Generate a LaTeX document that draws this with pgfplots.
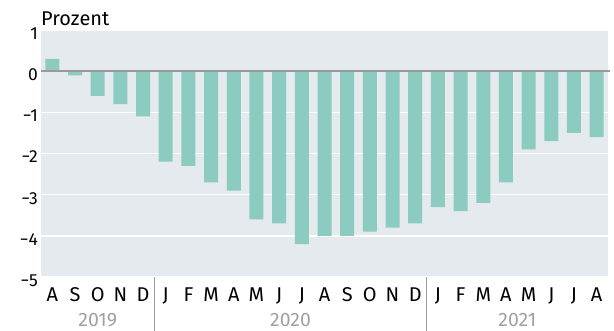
\documentclass[border=0pt]{standalone}
\usepackage{fontspec}
\setmainfont{Fira Sans}
\usepackage{pgfplots}
\pgfplotsset{compat=1.18}
\definecolor{bg}{HTML}{E5EAEE}
\definecolor{barc}{HTML}{8CCBC0}
\definecolor{zeroc}{HTML}{9A9A9A}
\definecolor{yrc}{HTML}{A0A0A0}
\begin{document}
\begin{tikzpicture}
\path[use as bounding box] (-41bp,-54bp) rectangle (573bp,277bp);
\begin{axis}[
  at={(0,0)}, anchor=south west,
  scale only axis, width=567bp, height=247bp,
  xmin=-0.5, xmax=24.5, ymin=-5, ymax=1,
  axis background/.style={fill=bg},
  axis line style={draw=none},
  major tick style={draw=none},
  ytick={-5,-4,-3,-2,-1,0,1},
  yticklabels={−5,−4,−3,−2,−1,0,1},
  ymajorgrids, grid style={white, line width=1.6bp},
  xtick={0,...,24},
  xticklabels={A,S,O,N,D,J,F,M,A,M,J,J,A,S,O,N,D,J,F,M,A,M,J,J,A},
  yticklabel style={font=\fontsize{17.5}{19}\selectfont, anchor=base east, inner sep=0pt, xshift=-3bp, yshift=-9.5bp},
  xticklabel style={font=\fontsize{20}{22}\selectfont, anchor=base, inner sep=0pt, yshift=-20.7bp},
  ybar, bar width=14bp,
  clip=false,
]
\addplot[fill=barc, draw=none] coordinates {
(0,0.3) (1,-0.1) (2,-0.6) (3,-0.8) (4,-1.1)
(5,-2.2) (6,-2.3) (7,-2.7) (8,-2.9) (9,-3.6) (10,-3.7) (11,-4.2) (12,-4.0) (13,-4.0) (14,-3.9) (15,-3.8) (16,-3.7)
(17,-3.3) (18,-3.4) (19,-3.2) (20,-2.7) (21,-1.9) (22,-1.7) (23,-1.5) (24,-1.6)
};
\draw[zeroc, line width=2.2bp] (axis cs:-0.5,0) -- ([xshift=2bp]axis cs:24.5,0);
\draw[zeroc, line width=1.5bp] (axis cs:4.5,-5) -- ([yshift=-54bp]axis cs:4.5,-5);
\draw[zeroc, line width=1.5bp] (axis cs:16.5,-5) -- ([yshift=-54bp]axis cs:16.5,-5);
\node[font=\fontsize{19.5}{21}\selectfont, text=yrc, anchor=base, inner sep=0pt] at ([yshift=-49.5bp]axis cs:2,-5) {2019};
\node[font=\fontsize{19.5}{21}\selectfont, text=yrc, anchor=base, inner sep=0pt] at ([yshift=-49.5bp]axis cs:10.5,-5) {2020};
\node[font=\fontsize{19.5}{21}\selectfont, text=yrc, anchor=base, inner sep=0pt] at ([yshift=-49.5bp]axis cs:20.5,-5) {2021};
\node[font=\fontsize{20}{22}\selectfont, anchor=base west, inner sep=0pt] at ([yshift=4.3bp]rel axis cs:0,1) {Prozent};
\end{axis}
\end{tikzpicture}
\end{document}
